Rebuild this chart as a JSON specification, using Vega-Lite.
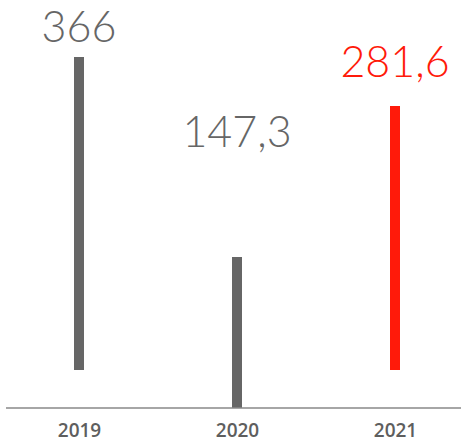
{
  "$schema": "https://vega.github.io/schema/vega-lite/v6.json",
  "autosize": "none",
  "width": 455,
  "height": 408,
  "padding": {"left": 6, "top": 0, "right": 0, "bottom": 39},
  "background": "white",
  "config": {"view": {"stroke": null}},
  "data": {
    "values": [
      {"year": "2019", "value": 366, "start": 37, "label": "366"},
      {"year": "2020", "value": 147.3, "start": 0, "label": "147,3"},
      {"year": "2021", "value": 281.6, "start": 37, "label": "281,6"}
    ]
  },
  "encoding": {
    "x": {
      "field": "year",
      "type": "ordinal",
      "scale": {"type": "point", "range": [73, 389], "padding": 0},
      "axis": {
        "title": null,
        "domain": false,
        "ticks": false,
        "labelAngle": 0,
        "labelFont": "Open Sans",
        "labelFontSize": 19,
        "labelFontWeight": 600,
        "labelColor": "#5e5e5e",
        "labelPadding": 13
      }
    },
    "color": {
      "field": "year",
      "type": "nominal",
      "scale": {"domain": ["2019", "2020", "2021"], "range": ["#666666", "#666666", "#ff1a0a"]},
      "legend": null
    }
  },
  "layer": [
    {
      "mark": {"type": "rule", "strokeWidth": 10, "strokeCap": "butt"},
      "encoding": {
        "y": {"field": "value", "type": "quantitative", "scale": {"domain": [0, 147.3, 281.6, 366], "range": [408, 257, 106, 57], "nice": false, "zero": false}, "axis": null},
        "y2": {"field": "start"}
      }
    },
    {
      "transform": [{"filter": "datum.year === '2019'"}],
      "mark": {"type": "text", "baseline": "alphabetic", "align": "center", "dy": -15, "font": "Lato", "fontSize": 43, "fontWeight": 300},
      "encoding": {
        "y": {"field": "value", "type": "quantitative"},
        "text": {"field": "label"}
      }
    },
    {
      "transform": [{"filter": "datum.year === '2020'"}],
      "mark": {"type": "text", "baseline": "alphabetic", "align": "center", "dy": -110, "font": "Lato", "fontSize": 43, "fontWeight": 300},
      "encoding": {
        "y": {"field": "value", "type": "quantitative"},
        "text": {"field": "label"}
      }
    },
    {
      "transform": [{"filter": "datum.year === '2021'"}],
      "mark": {"type": "text", "baseline": "alphabetic", "align": "center", "dy": -29, "font": "Lato", "fontSize": 43, "fontWeight": 300},
      "encoding": {
        "y": {"field": "value", "type": "quantitative"},
        "text": {"field": "label"}
      }
    },
    {
      "data": {"values": [{}]},
      "mark": {"type": "rule", "strokeWidth": 1.5},
      "encoding": {"y": {"datum": 0, "type": "quantitative"}, "color": {"value": "#888888"}, "x": null}
    }
  ]
}
